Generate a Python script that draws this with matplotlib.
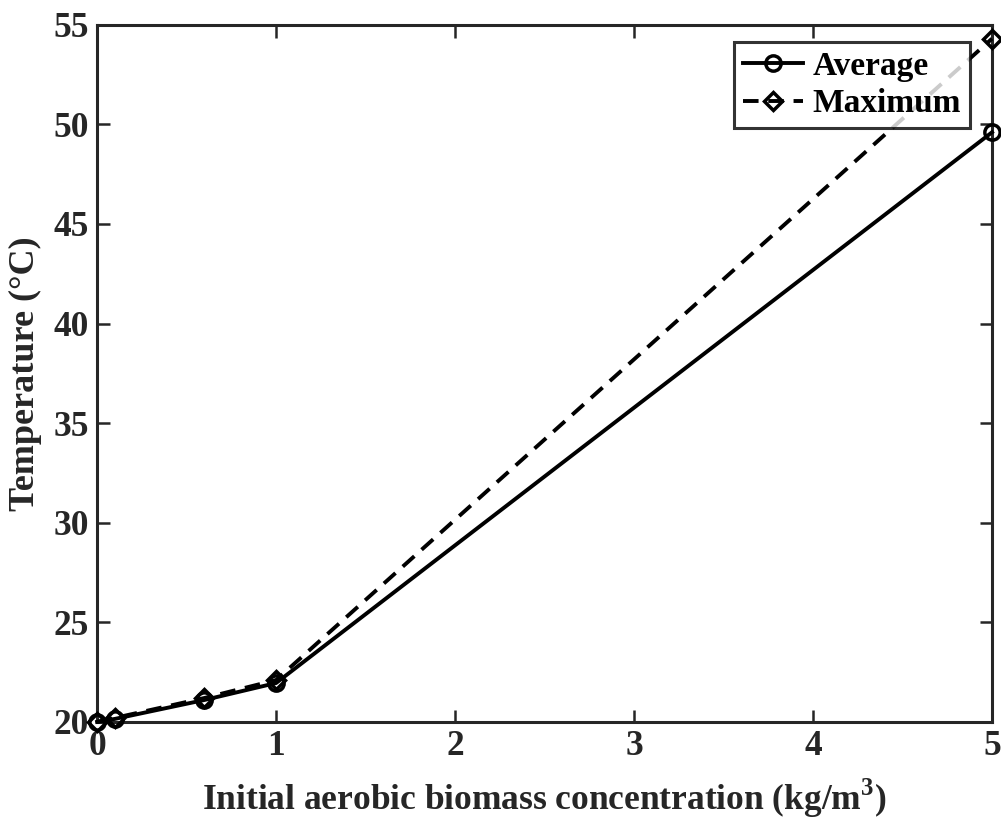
import matplotlib
matplotlib.use("Agg")
import matplotlib.pyplot as plt

x = [0, 0.1, 0.6, 1, 5]
avg = [20.0, 20.15, 21.1, 21.95, 49.6]
mx = [20.0, 20.2, 21.2, 22.1, 54.3]
xticks = [0, 1, 2, 3, 4, 5]
yticks = [20, 25, 30, 35, 40, 45, 50, 55]

plt.rcParams['font.family'] = ['Liberation Serif', 'DejaVu Serif']
plt.rcParams['font.weight'] = 'bold'
plt.rcParams['mathtext.fontset'] = 'custom'
plt.rcParams['mathtext.rm'] = 'Liberation Serif:bold'
plt.rcParams['mathtext.bf'] = 'Liberation Serif:bold'

fig = plt.figure(figsize=(10.01, 8.25), dpi=100)
ax = fig.add_axes([0.097, 0.125, 0.894, 0.845])
c = '#262626'
ax.plot(x, avg, '-', color='black', lw=2.8, marker='o', ms=11, mfc='none', mew=2.5, label='Average', clip_on=False, zorder=3)
ax.plot(x, mx, '--', color='black', lw=2.8, marker='D', ms=9, mfc='none', mew=2.5, label='Maximum', clip_on=False, zorder=3, dashes=(4, 2.5))
ax.set_xlim(0, 5)
ax.set_ylim(20, 55)
ax.set_xticks(xticks)
ax.set_yticks(yticks)
ax.tick_params(direction='in', length=9, width=1.8, labelsize=25.5, colors=c, top=True, right=True, pad=6)
for s in ax.spines.values():
    s.set_linewidth(2.2)
    s.set_color(c)
ax.set_xlabel('Initial aerobic biomass concentration (kg/m$^3$)', fontsize=25.5, fontweight='bold', color=c, labelpad=10)
ax.set_ylabel('Temperature (°C)', fontsize=26, fontweight='bold', color=c, labelpad=8)
leg = ax.legend(loc='upper right', bbox_to_anchor=(0.975, 0.975), fontsize=24, frameon=True, fancybox=False,
                edgecolor='black', handlelength=1.8, borderpad=0.25, labelspacing=0.2, handletextpad=0.3,
                borderaxespad=0)
leg.get_frame().set_linewidth(2.2)
fig.savefig('out.png', dpi=100)
